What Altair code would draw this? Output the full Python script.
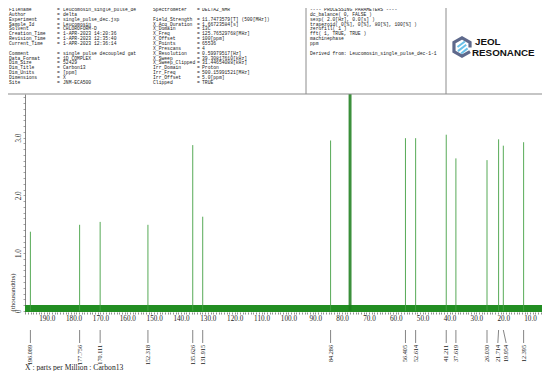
import altair as alt
import pandas as pd

# ---------------- spectrum values ----------------
peak_ppm = [196.089, 177.756, 170.111, 152.318, 135.626, 131.915, 84.286,
            56.405, 52.614, 41.211, 37.619, 26.030, 21.714, 19.954, 12.395]
peak_height = [1.37, 1.49, 1.54, 1.49, 2.87, 1.63, 2.95,
               2.99, 2.99, 3.05, 2.64, 2.61, 2.97, 2.86, 2.92]
label_ppm = [196.089, 177.756, 170.111, 152.318, 135.626, 131.915, 84.286,
             56.405, 52.614, 41.211, 37.619, 26.030, 22.0, 18.9, 12.395]
peak_labels = ["196.089", "177.756", "170.111", "152.318", "135.626", "131.915", "84.286",
               "56.405", "52.614", "41.211", "37.619", "26.030", "21.714", "19.954", "12.395"]
solvent_ppm = [77.36, 77.04, 76.72]
solvent_height = [9.0, 9.0, 9.0]
noise_band = [-0.02, 0.10]

x_domain = [5.55, 198.1]
y_domain = [-0.02, 3.755]
x_tick_values = list(range(6, 199))
y_tick_values = [round(0.1 * i, 1) for i in range(0, 38)]

# ---------------- header text ----------------
left_keys = ["Filename", "Author", "Experiment", "Sample_Id", "Solvent", "Creation_Time",
             "Revision_Time", "Current_Time", "Comment", "Data_Format", "Dim_Size",
             "Dim_Title", "Dim_Units", "Dimensions", "Site"]
left_vals = ["Leucomosin_single_pulse_de", "delta", "single_pulse_dec.jxp", "Leucomosin",
             "CHLOROFORM-D", "1-APR-2023 14:20:36", "1-APR-2023 12:35:40",
             "1-APR-2023 12:36:14", "single pulse decoupled gat", "1D COMPLEX", "52429",
             "Carbon13", "[ppm]", "X", "JNM-ECA500"]
left_rows = [0, 1, 2, 3, 4, 5, 6, 7, 9, 10, 11, 12, 13, 14, 15]

mid_keys = ["Spectrometer", "Field_Strength", "X_Acq_Duration", "X_Domain", "X_Freq",
            "X_Offset", "X_Points", "X_Prescans", "X_Resolution", "X_Sweep",
            "X_Sweep_Clipped", "Irr_Domain", "Irr_Freq", "Irr_Offset", "Clipped"]
mid_vals = ["DELTA2_NMR", "11.7473579[T] (500[MHz])", "1.66723584[s]", "13C",
            "125.76529768[MHz]", "100[ppm]", "65536", "4", "0.59979517[Hz]",
            "39.30817610[kHz]", "31.44654088[kHz]", "Proton", "500.15991521[MHz]",
            "5.0[ppm]", "TRUE"]
mid_rows = [0, 2, 3, 4, 5, 6, 7, 8, 9, 10, 11, 12, 13, 14, 15]

proc_lines = ["---- PROCESSING PARAMETERS ----", "dc_balance( 0, FALSE )",
              "sexp( 2.0[Hz], 0.0[s] )", "trapezoid( 0[%], 0[%], 80[%], 100[%] )",
              "zerofill( 1 )", "fft( 1, TRUE, TRUE )", "machinephase", "ppm",
              "Derived from: Leucomosin_single_pulse_dec-1-1"]
proc_rows = [0, 1, 2, 3, 4, 5, 6, 7, 9]

W, H = 517, 218
ROW0, ROWSTEP = -84.0, 4.85

# ---------------- tables ----------------
peaks_df = pd.DataFrame({"ppm": peak_ppm, "h": peak_height, "base": 0.0,
                         "lppm": label_ppm, "label": peak_labels})
solv_df = pd.DataFrame({"ppm": solvent_ppm, "h": solvent_height, "base": 0.0})
noise_df = pd.DataFrame({"x0": [x_domain[0]], "x1": [x_domain[1]],
                         "y0": [noise_band[0]], "y1": [noise_band[1]]})


def rows_df(keys, vals, rows, kx, ex, vx):
    recs = []
    for k, v, r in zip(keys, vals, rows):
        y = ROW0 + ROWSTEP * r
        recs.append({"t": k, "px": kx, "py": y})
        recs.append({"t": "=", "px": ex, "py": y})
        recs.append({"t": v, "px": vx, "py": y})
    return pd.DataFrame(recs)


hdr_df = pd.concat([
    rows_df(left_keys, left_vals, left_rows, -16, 32, 38),
    rows_df(mid_keys, mid_vals, mid_rows, 128, 172, 177),
    pd.DataFrame({"t": proc_lines, "px": 285,
                  "py": [ROW0 + ROWSTEP * r for r in proc_rows]}),
], ignore_index=True)

# ---------------- scales / axes ----------------
xs = alt.Scale(domain=x_domain, reverse=True, nice=False, zero=False)
ys = alt.Scale(domain=y_domain, nice=False, zero=False)
xaxis = alt.Axis(values=x_tick_values, labelOverlap=False,
                 labelExpr="datum.value % 10 === 0 ? format(datum.value, '.1f') : ''",
                 domain=False, grid=False, tickSize=2, tickColor="#444", tickWidth=0.6,
                 labelFont="Liberation Serif", labelFontSize=7.2, labelColor="#222",
                 labelPadding=0.5, title=None)
yaxis = alt.Axis(values=y_tick_values, labelOverlap=False,
                 labelExpr="abs(datum.value - round(datum.value)) < 0.001 ? (datum.value == 0 ? '0' : format(datum.value, '.1f')) : ''",
                 grid=False, domainColor="#666", domainWidth=0.8, tickColor="#666",
                 tickWidth=0.6, tickSize=2, labelAngle=270, labelAlign="center",
                 labelBaseline="bottom", labelPadding=1, labelFont="Liberation Serif",
                 labelFontSize=7.2, labelColor="#222",
                 title="(thousandths)", titleFont="Liberation Serif", titleFontSize=7,
                 titleFontWeight="normal", titleColor="#222", titleAngle=270,
                 titleAlign="center", titleBaseline="middle", titleX=-13, titleY=198)


def X(f):
    return alt.X(f, type="quantitative", scale=xs, axis=xaxis)


def Y(f):
    return alt.Y(f, type="quantitative", scale=ys, axis=yaxis)


noise = alt.Chart(noise_df).mark_rect(color="#228e22", clip=True).encode(
    x=X("x0"), x2="x1", y=Y("y0"), y2="y1")

peaks = alt.Chart(peaks_df).mark_rule(color="#44a044", strokeWidth=0.9, clip=True).encode(
    x=X("ppm"), y=Y("h"), y2="base")

solvent = alt.Chart(solv_df).mark_rule(color="#1d7f1d", strokeWidth=1.1, clip=True).encode(
    x=X("ppm"), y=Y("h"), y2="base")

label_lines = alt.Chart(peaks_df).mark_rule(color="#333", strokeWidth=0.6).encode(
    x=X("ppm"), x2="lppm", y=alt.value(236), y2=alt.value(249))

label_text = alt.Chart(peaks_df).mark_text(
    angle=270, align="right", baseline="middle", font="Liberation Serif",
    fontSize=6.2, color="#222").encode(x=X("lppm"), y=alt.value(251), text="label")

bottom_title = alt.Chart(noise_df).mark_text(
    align="left", baseline="middle", font="Liberation Serif", fontSize=7.6,
    color="#222").encode(x=alt.value(0), y=alt.value(274),
                         text=alt.value("X : parts per Million : Carbon13"))

header = alt.Chart(hdr_df).mark_text(
    align="left", baseline="middle", font="Liberation Mono", fontSize=4.7,
    color="#222").encode(x=alt.X("px:Q", scale=None), y=alt.Y("py:Q", scale=None), text="t")

hline = alt.Chart(noise_df).mark_rule(color="#8c8c8c", strokeWidth=1.2).encode(
    x=alt.value(-17), x2=alt.value(W), y=alt.value(0))
vline1 = alt.Chart(noise_df).mark_rule(color="#8c8c8c", strokeWidth=1).encode(
    x=alt.value(281), y=alt.value(-86), y2=alt.value(0))
vline2 = alt.Chart(noise_df).mark_rule(color="#8c8c8c", strokeWidth=1).encode(
    x=alt.value(421), y=alt.value(-86), y2=alt.value(0))

# logo
logo_ring = alt.Chart(noise_df).mark_point(
    shape="M0.87,0.05 L0.87,-0.5 L0,-1 L-0.87,-0.5 L-0.87,0.5 L0,1 L0.87,0.5",
    filled=False, stroke="#1b2b5c", strokeWidth=3.2, size=340).encode(
    x=alt.value(437), y=alt.value(-47))
logo_stripes = alt.Chart(noise_df).mark_point(
    shape="M-0.55,0.45 L0.35,-0.25 M-0.6,0.0 L0.2,-0.6 M-0.2,0.7 L0.5,0.15",
    filled=False, stroke="#2aa8e0", strokeWidth=2, size=340).encode(
    x=alt.value(438), y=alt.value(-47))
logo_jeol = alt.Chart(noise_df).mark_text(
    align="left", baseline="middle", font="Liberation Sans", fontWeight="bold",
    fontSize=9.8, color="#111").encode(x=alt.value(450), y=alt.value(-52.5),
                                       text=alt.value("JEOL"))
logo_res = alt.Chart(noise_df).mark_text(
    align="left", baseline="middle", font="Liberation Sans", fontWeight="bold",
    fontSize=9.8, color="#111").encode(x=alt.value(447), y=alt.value(-41.5),
                                       text=alt.value("RESONANCE"))

chart = alt.layer(
    noise, peaks, solvent, label_lines, label_text, bottom_title, header,
    hline, vline1, vline2, logo_ring, logo_stripes, logo_jeol, logo_res
).properties(
    width=W, height=H,
    autosize=alt.AutoSizeParams(type="none"),
    padding={"left": 17, "top": 86, "right": 0, "bottom": 59},
    background="white",
).configure_view(strokeWidth=0)

chart.save("out.html", embed_options={"renderer": "svg", "actions": False})
